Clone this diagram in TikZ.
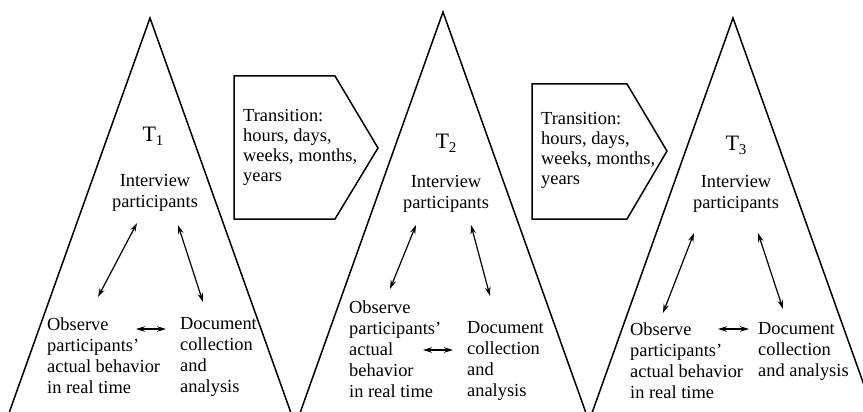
\documentclass[tikz,border=0pt]{standalone}
\usepackage{fontspec}
\setmainfont{Liberation Serif}
\usetikzlibrary{arrows.meta}
\newcommand{\tsub}[1]{T\raisebox{-4pt}{\fontsize{15}{15}\selectfont #1}}
\begin{document}
\begin{tikzpicture}[x=1pt,y=-1pt,
  side/.style={line width=1.5pt,line join=miter},
  dbl/.style={line width=1.2pt,{Stealth[length=9pt,width=5.5pt]}-{Stealth[length=9pt,width=5.5pt]}},
  txt/.style={inner sep=0pt,anchor=north west,align=left,font=\fontsize{18.4}{21}\selectfont},
  ctxt/.style={inner sep=0pt,anchor=north,align=center,font=\fontsize{18.4}{20.5}\selectfont},
  ttxt/.style={inner sep=0pt,anchor=base,font=\fontsize{22}{22}\selectfont},
  trtxt/.style={inner sep=0pt,anchor=north west,align=left,font=\fontsize{18.4}{20}\selectfont}]
\useasboundingbox (0,0) rectangle (863,412);
\fill[white] (0,0) rectangle (863,412);
\begin{scope}
\clip (0,0) rectangle (863,412);
% triangles
\coordinate (A1) at (150,18);  \coordinate (L1) at (9,413);   \coordinate (R1) at (291,413);
\coordinate (A2) at (443,12);  \coordinate (L2) at (300,413); \coordinate (R2) at (586,413);
\coordinate (A3) at (733,18);  \coordinate (L3) at (592,413); \coordinate (R3) at (874,413);
\draw[side] (L1) -- (A1) -- (R1);
\draw[side] (L2) -- (A2) -- (R2);
\draw[side] (L3) -- (A3) -- (R3);
% transition boxes
\draw[side] (234,76) -- (335,76) -- (378,148) -- (335,219) -- (234,219) -- cycle;
\draw[side] (532,84) -- (627,84) -- (667,151) -- (627,219) -- (532,219) -- cycle;
\node[trtxt] (tr1) at (243,109.4) {Transition:\\hours, days,\\weeks, months,\\years};
\node[trtxt] (tr2) at (541,112.4) {Transition:\\hours, days,\\weeks, months,\\years};
% T labels
\node[ttxt] (t1) at (153,141) {\tsub{1}};
\node[ttxt] (t2) at (446,148) {\tsub{2}};
\node[ttxt] (t3) at (736,150) {\tsub{3}};
% interview
\node[ctxt] (i1) at (155,174.5) {Interview\\participants};
\node[ctxt] (i2) at (446,175.5) {Interview\\participants};
\node[ctxt] (i3) at (736,175.5) {Interview\\participants};
% observe
\node[txt] (o1) at (47,317.4) {Observe\\participants'\\actual behavior\\in real time};
\node[txt] (o2) at (349,300.4) {Observe\\participants'\\actual\\behavior\\in real time};
\node[txt] (o3) at (630,322.4) {Observe\\participants'\\actual behavior\\in real time};
% document
\node[txt] (d1) at (180,317.4) {Document\\collection\\and\\analysis};
\node[txt] (d2) at (467,321.4) {Document\\collection\\and\\analysis};
\node[txt] (d3) at (758,322.4) {Document\\collection\\and analysis};
% arrow end points
\coordinate (i1a) at (137,223); \coordinate (o1a) at (98,297);
\coordinate (i1b) at (178,225); \coordinate (d1a) at (203,302);
\coordinate (o1b) at (136,329); \coordinate (d1b) at (166,329);
\coordinate (i2a) at (416,225); \coordinate (o2a) at (390,289);
\coordinate (i2b) at (471,225); \coordinate (d2a) at (490,296);
\coordinate (o2b) at (423,350); \coordinate (d2b) at (453,350);
\coordinate (i3a) at (694,233); \coordinate (o3a) at (663,313);
\coordinate (i3b) at (758,233); \coordinate (d3a) at (783,309);
\coordinate (o3b) at (718,329); \coordinate (d3b) at (749,329);
\draw[dbl] (i1a) -- (o1a);
\draw[dbl] (i1b) -- (d1a);
\draw[dbl] (o1b) -- (d1b);
\draw[dbl] (i2a) -- (o2a);
\draw[dbl] (i2b) -- (d2a);
\draw[dbl] (o2b) -- (d2b);
\draw[dbl] (i3a) -- (o3a);
\draw[dbl] (i3b) -- (d3a);
\draw[dbl] (o3b) -- (d3b);
\end{scope}
\end{tikzpicture}
\end{document}
